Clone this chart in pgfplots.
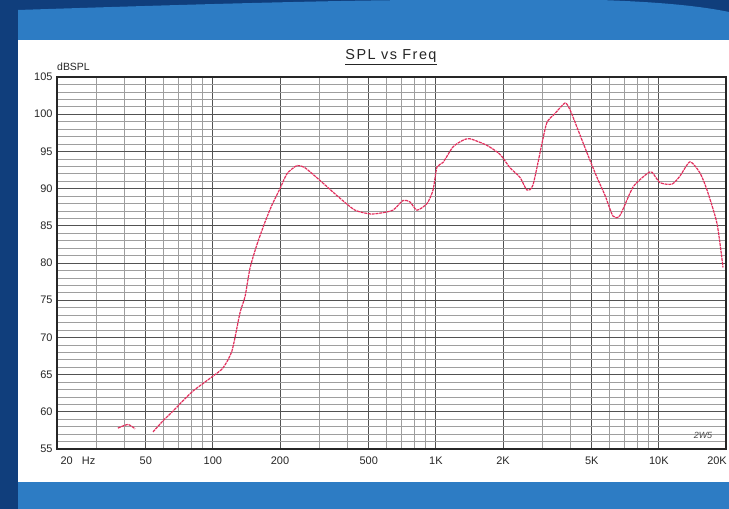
\documentclass[border=0pt]{standalone}
\usepackage{fontspec}
\setmainfont{Liberation Sans}
\usepackage{pgfplots}
\pgfplotsset{compat=1.18}
\definecolor{bgdark}{RGB}{16,62,124}
\definecolor{bglight}{RGB}{45,124,196}
\definecolor{curve}{RGB}{226,46,92}
\begin{document}
\begin{tikzpicture}
\useasboundingbox (0bp,0bp) rectangle (729bp,509bp);
\clip (0bp,0bp) rectangle (729bp,509bp);
\fill[bgdark] (0bp,0bp) rectangle (729bp,509bp);
\fill[bglight] (18bp,0bp) -- (18bp,499bp) .. controls (200bp,505bp) and (350bp,509bp) .. (430bp,509bp) -- (600bp,509bp) .. controls (660bp,507bp) and (700bp,503bp) .. (729bp,497bp) -- (729bp,0bp) -- cycle;
\fill[white] (18bp,27bp) rectangle (729bp,469bp);
\begin{axis}[
  at={(57bp,60bp)}, anchor=south west,
  scale only axis, width=669bp, height=372bp,
  xmode=log, xmin=20, xmax=20000, ymin=55, ymax=105,
  log ticks with fixed point,
  xtick={20,50,100,200,500,1000,2000,5000,10000,20000},
  xticklabels={\hspace*{42bp}20\ \ \ Hz,50,100,200,500,1K,2K,5K,10K,\hspace*{-18bp}20K},
  minor xtick={30,40,60,70,80,90,300,400,600,700,800,900,3000,4000,6000,7000,8000,9000},
  ytick={55,60,...,105},
  minor ytick={56,57,58,59,61,62,63,64,66,67,68,69,71,72,73,74,76,77,78,79,81,82,83,84,86,87,88,89,91,92,93,94,96,97,98,99,101,102,103,104},
  grid=both,
  major grid style={draw=black!68, line width=0.9pt},
  minor grid style={draw=black!38, line width=0.55pt},
  major tick length=0pt, minor tick length=0pt,
  axis line style={draw=black!85, line width=1.1pt},
  ticklabel style={font=\fontsize{11}{12}\selectfont, text=black!85},
  /pgf/number format/assume math mode=true,
  xticklabel style={yshift=-4bp},
  yticklabel style={xshift=-1bp},
]
\addplot[curve, line width=1.2pt, dash pattern=on 3pt off 0.8pt, smooth, tension=0.4] coordinates {
(37.5,57.8) (41.6,58.3) (44.8,57.7)
};
\addplot[curve, line width=1.2pt, dash pattern=on 3pt off 0.8pt, smooth, tension=0.4] coordinates {
(53.9,57.3) (59.8,58.8) (66.3,60.1) (73.5,61.5) (81.5,62.8) (90.3,63.8)
(100.1,64.8) (111,65.9) (121.8,68.2) (132.3,73.3) (139.4,75.5) (146.7,79.3)
(157.7,82.5) (171.3,85.5) (184.1,87.8) (200,90) (215,92) (238.4,93.1)
(258.8,92.8) (302,91.1) (371.7,88.7) (434,87.1) (506.6,86.6) (561.6,86.7)
(642,87.1) (712,88.4) (765.6,88.2) (823,87.1) (912.6,88.0) (970.8,89.8)
(1011.6,92.9) (1076,93.5) (1193,95.6) (1323,96.5) (1422,96.7) (1696,95.8)
(1939,94.6) (2150,92.8) (2384,91.5) (2562,89.8) (2726,90.5) (2992,96.1)
(3150,98.9) (3422,100.1) (3794,101.5) (3995,100.6) (4338,97.9) (4762,94.8)
(5278,91.5) (5733,89.1) (6228,86.3) (6693,86.4) (7656,90.2) (8846,92.0)
(9316,92.2) (10116,90.8) (11452,90.6) (12440,91.7) (13794,93.6) (15290,92.1)
(16438,89.8) (18226,85.3) (19388,79.4)
};
\end{axis}
\node[anchor=south west, font=\fontsize{10.5}{12}\selectfont, text=black!85, inner sep=0pt] at (57bp,438bp) {dBSPL};
\node[font=\fontsize{14.5}{16}\selectfont\addfontfeatures{LetterSpace=10}, text=black!85, inner sep=0pt] at (391bp,452bp) {\underline{SPL vs Freq}};
\node[font=\fontsize{9}{10}\selectfont\itshape, text=black!70, inner sep=0pt] at (703bp,74bp) {2W5};
\end{tikzpicture}
\end{document}
